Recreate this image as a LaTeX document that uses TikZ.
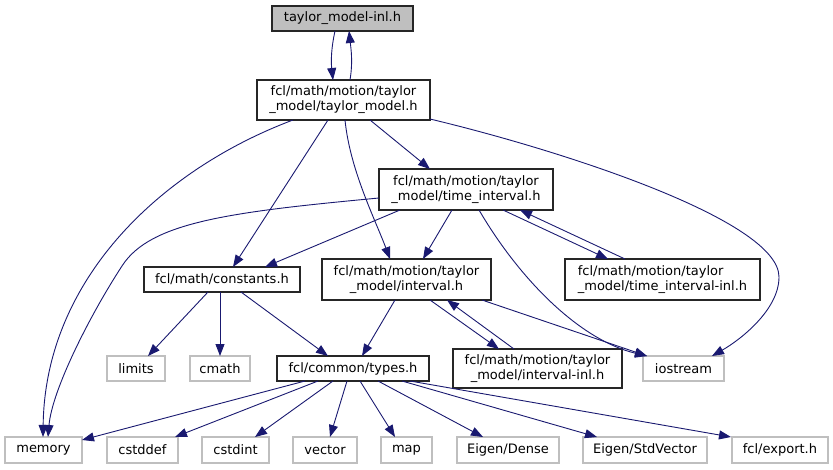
\documentclass[tikz,border=0pt]{standalone}
\usepackage{fontspec}
\setmainfont{DejaVu Sans}
\usetikzlibrary{arrows.meta,calc}
\definecolor{edgeblue}{HTML}{191970}
\definecolor{extgray}{HTML}{BFBFBF}
\begin{document}
\begin{tikzpicture}[x=1pt,y=-1pt,
  every node/.style={inner sep=0pt,outer sep=0pt,align=center,font=\fontsize{13}{15}\selectfont},
  hbox/.style={draw=black!85,fill=white,line width=1.1pt},
  topbox/.style={draw=black!85,fill=extgray,line width=1.1pt},
  extbox/.style={draw=extgray,fill=white,line width=1.1pt},
  edge/.style={draw=edgeblue,line width=0.9pt,-{Triangle[length=12pt,width=9pt]}}]
\useasboundingbox (0,0) rectangle (833,469);
% nodes
\node[topbox,minimum width=141pt,minimum height=25pt] (top) at (342.5,18.5) {taylor\_model-inl.h};
\node[hbox,minimum width=173pt,minimum height=40pt] (tm) at (343.5,100) {fcl/math/motion/taylor\\\_model/taylor\_model.h};
\node[hbox,minimum width=174pt,minimum height=41pt] (ti) at (466,189.5) {fcl/math/motion/taylor\\\_model/time\_interval.h};
\node[hbox,minimum width=169pt,minimum height=41pt] (interval) at (406.5,279.5) {fcl/math/motion/taylor\\\_model/interval.h};
\node[hbox,minimum width=195pt,minimum height=41pt,align=left] (tiinl) at (662.5,279.5) {fcl/math/motion/taylor\\\_model/time\_interval-inl.h};
\node[hbox,minimum width=156pt,minimum height=25pt] (constants) at (222,279.5) {fcl/math/constants.h};
\node[extbox,minimum width=58pt,minimum height=25pt] (limits) at (136,368.5) {limits};
\node[extbox,minimum width=60pt,minimum height=25pt] (cmath) at (220,368.5) {cmath};
\node[hbox,minimum width=152pt,minimum height=25pt] (types) at (353,368.5) {fcl/common/types.h};
\node[hbox,minimum width=169pt,minimum height=39pt] (intinl) at (537.5,368.5) {fcl/math/motion/taylor\\\_model/interval-inl.h};
\node[extbox,minimum width=81pt,minimum height=25pt] (iostream) at (683.5,368.5) {iostream};
\node[extbox,minimum width=77pt,minimum height=26pt] (memory) at (43.5,450) {memory};
\node[extbox,minimum width=71pt,minimum height=26pt] (cstddef) at (142.5,450) {cstddef};
\node[extbox,minimum width=67pt,minimum height=26pt] (cstdint) at (235.5,450) {cstdint};
\node[extbox,minimum width=64pt,minimum height=26pt] (vector) at (325,450) {vector};
\node[extbox,minimum width=51pt,minimum height=26pt] (map) at (406.5,450) {map};
\node[extbox,minimum width=102pt,minimum height=26pt] (dense) at (508,450) {Eigen/Dense};
\node[extbox,minimum width=124pt,minimum height=26pt] (stdvec) at (645,450) {Eigen/StdVector};
\node[extbox,minimum width=96pt,minimum height=26pt] (export) at (780,450) {fcl/export.h};
% edges
\draw[edge] ([xshift=-7.5pt]top.south) .. controls +(-4,18) and +(-2,-18) .. ([xshift=-10.5pt]tm.north);
\draw[edge] ([xshift=6.5pt]tm.north) .. controls +(3,-18) and +(2,18) .. ([xshift=6.5pt]top.south);
\draw[edge] ([xshift=-50.5pt]tm.south) .. controls (160,170) and (45,280) .. ([xshift=-0.5pt]memory.north);
\draw[edge] ([yshift=-8.5pt]ti.west) .. controls (230,212) and (150,222) .. (122,266) .. controls (90,315) and (52,390) .. ([xshift=4.5pt]memory.north);
\draw[edge] ([xshift=-15.5pt]tm.south) -- ([xshift=11pt]constants.north);
\draw[edge] ([xshift=1.5pt]tm.south) .. controls +(5,50) and +(-15,-40) .. ([xshift=-16.5pt]interval.north);
\draw[edge] ([xshift=26.5pt]tm.south) -- ([xshift=-36pt]ti.north);
\draw[edge] ([yshift=1pt]tm.south east) .. controls (560,150) and (779,220) .. (779,277) .. controls (779,310) and (740,340) .. ([xshift=28.5pt]iostream.north);
\draw[edge] ([xshift=-66pt]ti.south) -- ([xshift=43pt]constants.north);
\draw[edge] ([xshift=-14pt]ti.south) -- ([xshift=16.5pt]interval.north);
\draw[edge] ([xshift=13pt]ti.south) .. controls (520,280) and (580,340) .. ([xshift=4pt]iostream.north west);
\draw[edge] ([xshift=37pt]ti.south) -- ([xshift=-54.5pt]tiinl.north);
\draw[edge] ([xshift=-37.5pt]tiinl.north) -- ([xshift=54pt]ti.south);
\draw[edge] ([xshift=-14pt]constants.south) -- ([xshift=12pt]limits.north);
\draw[edge] ([xshift=-2pt]constants.south) -- (cmath.north);
\draw[edge] ([xshift=19pt]constants.south) -- ([xshift=-25pt]types.north);
\draw[edge] ([xshift=-11.5pt]interval.south) -- ([xshift=9pt]types.north);
\draw[edge] ([xshift=23.5pt]interval.south) -- ([xshift=-38.5pt]intinl.north);
\draw[edge] ([xshift=-23.5pt]intinl.north) -- ([xshift=40.5pt]interval.south);
\draw[edge] ([xshift=75.5pt]interval.south) -- ([xshift=4pt]iostream.north west);
\draw[edge] ([xshift=-48pt]types.south) -- ([yshift=-3pt]memory.north east);
\draw[edge] ([xshift=-35pt]types.south) -- ([xshift=32.5pt]cstddef.north);
\draw[edge] ([xshift=-20pt]types.south) -- ([xshift=19.5pt]cstdint.north);
\draw[edge] ([xshift=-6pt]types.south) -- ([xshift=5pt]vector.north);
\draw[edge] ([xshift=7pt]types.south) -- ([xshift=-11.5pt]map.north);
\draw[edge] ([xshift=25pt]types.south) -- ([xshift=-25pt]dense.north);
\draw[edge] ([xshift=49pt]types.south) -- ([xshift=-48pt]stdvec.north);
\draw[edge] ([xshift=57pt]types.south) -- ([xshift=-1pt]export.north west);
\end{tikzpicture}
\end{document}
